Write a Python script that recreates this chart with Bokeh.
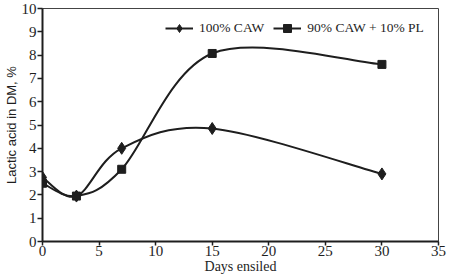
from bokeh.plotting import figure
from bokeh.models import Legend, LegendItem, Range1d, FixedTicker
from bokeh.embed import file_html
from bokeh.resources import INLINE

days = [0, 3, 7, 15, 30]
caw100 = [2.75, 1.95, 4.0, 4.85, 2.9]
caw90_pl10 = [2.5, 1.95, 3.1, 8.07, 7.6]
x_ticks = [0, 5, 10, 15, 20, 25, 30, 35]
y_ticks = [0, 1, 2, 3, 4, 5, 6, 7, 8, 9, 10]
names = ["100% CAW", "90% CAW + 10% PL"]
x_title = "Days ensiled"
y_title = "Lactic acid in DM, %"

SERIF = "Liberation Serif"
SANS = "Liberation Sans"
INK = "#1e1e1e"


def smooth_segments(xs, ys):
    # Catmull-Rom style control points (as a spreadsheet "smoothed line")
    n = len(xs)
    px = [xs[0]] + list(xs) + [xs[-1]]
    py = [ys[0]] + list(ys) + [ys[-1]]
    out = dict(x0=[], y0=[], x1=[], y1=[], cx0=[], cy0=[], cx1=[], cy1=[])
    for i in range(n - 1):
        a, b, c, d = i, i + 1, i + 2, i + 3
        out["x0"].append(px[b]); out["y0"].append(py[b])
        out["x1"].append(px[c]); out["y1"].append(py[c])
        out["cx0"].append(px[b] + (px[c] - px[a]) / 6.0)
        out["cy0"].append(py[b] + (py[c] - py[a]) / 6.0)
        out["cx1"].append(px[c] - (px[d] - px[b]) / 6.0)
        out["cy1"].append(py[c] - (py[d] - py[b]) / 6.0)
    return out


p = figure(width=450, height=276, output_backend="svg", toolbar_location=None,
           x_range=Range1d(0, 35), y_range=Range1d(0, 10),
           min_border_left=40, min_border_right=12, min_border_top=8, min_border_bottom=35)
p.background_fill_color = "white"
p.border_fill_color = "white"
p.grid.visible = False
p.outline_line_color = "#444444"
p.outline_line_width = 1

items = []
for ys, name, marker, size in [(caw100, names[0], "diamond", 12), (caw90_pl10, names[1], "square", 8)]:
    seg = smooth_segments(days, ys)
    b = p.bezier(x0="x0", y0="y0", x1="x1", y1="y1", cx0="cx0", cy0="cy0", cx1="cx1", cy1="cy1",
                 source=seg, line_color=INK, line_width=2)
    s = p.scatter(days, ys, marker=marker, size=size, fill_color=INK, line_color=INK)
    items.append(LegendItem(label=name, renderers=[b, s]))

legend = Legend(items=items, orientation="horizontal", location=(123, 203),
                border_line_color=None, background_fill_alpha=0,
                label_text_font=SERIF, label_text_font_size="13.5px", label_text_color=INK,
                glyph_width=28, glyph_height=20, spacing=9, label_standoff=6,
                padding=0, margin=0)
p.add_layout(legend)

for ax in (p.xaxis[0], p.yaxis[0]):
    ax.axis_line_color = INK
    ax.axis_line_width = 2
    ax.major_tick_line_color = INK
    ax.major_tick_line_width = 1.5
    ax.minor_tick_line_color = None
    ax.major_label_text_font = SERIF
    ax.major_label_text_font_size = "15px"
    ax.major_label_text_color = INK
    ax.axis_label_text_color = INK
    ax.axis_label_text_font_style = "normal"

p.xaxis.ticker = FixedTicker(ticks=x_ticks)
p.yaxis.ticker = FixedTicker(ticks=y_ticks)
p.xaxis.major_tick_in = 0
p.xaxis.major_tick_out = 4
p.yaxis.major_tick_in = 0
p.yaxis.major_tick_out = 5
p.xaxis.major_label_standoff = 0
p.yaxis.major_label_standoff = 1
p.xaxis.axis_label = x_title
p.xaxis.axis_label_text_font = SERIF
p.xaxis.axis_label_text_font_size = "14px"
p.xaxis.axis_label_standoff = 0
p.yaxis.axis_label = y_title
p.yaxis.axis_label_text_font = SANS
p.yaxis.axis_label_text_font_size = "13px"
p.yaxis.axis_label_standoff = 0

open("out.html", "w").write(file_html(p, INLINE))
